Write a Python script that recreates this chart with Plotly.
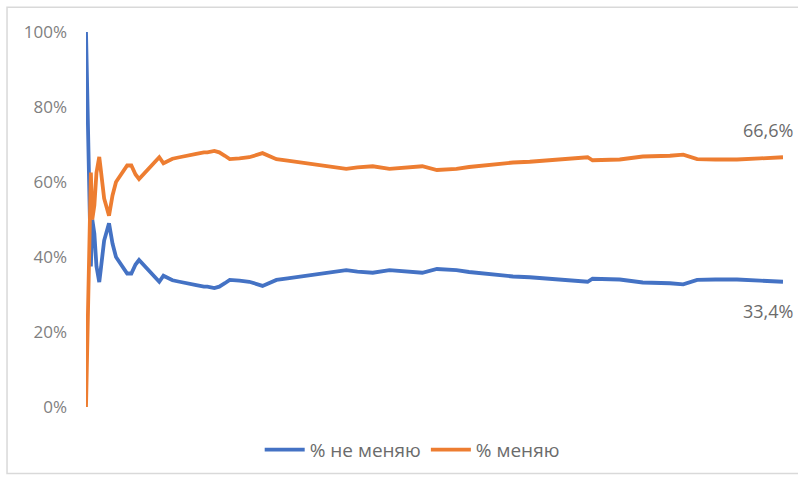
import plotly.graph_objects as go

trials = [1, 4, 6, 8, 10, 13, 16, 20, 22, 27, 34, 39, 44, 53, 60, 66, 72, 77, 85, 92,
          100, 106, 112, 116, 125, 135, 149, 159, 170, 175, 185, 192, 200, 207, 221, 235,
          254, 265, 274, 290, 307, 330, 346, 360, 374, 390, 412, 436, 460, 483, 504, 520,
          532, 550, 565, 590, 613, 637, 661, 684, 709, 720, 727, 750, 766, 799, 813, 838,
          857, 877, 903, 934, 967, 1000]

# % меняю (switch)
pct_switch = [0.0, 25.0, 50.0, 62.5, 50.0, 53.8, 62.5, 66.7, 63.6, 55.6, 51.0, 56.4, 60.0,
              62.6, 64.4, 64.4, 62.0, 60.8, 62.5, 63.9, 65.5, 66.6, 65.0, 65.3, 66.2, 66.6,
              67.0, 67.5, 67.9, 67.9, 68.3, 67.9, 67.0, 66.1, 66.3, 66.6, 67.7, 66.8, 66.1,
              65.7, 65.3, 64.6, 64.4, 64.0, 63.5, 63.9, 64.2, 63.5, 63.8, 64.2, 63.2, 63.3,
              63.5, 64.0, 64.3, 64.7, 65.2, 65.4, 65.8, 66.1, 66.4, 66.6, 65.8, 65.9, 66.0,
              66.8, 66.8, 67.0, 67.3, 66.1, 66.0, 66.0, 66.3, 66.6]

# % не меняю (stay)
pct_stay = [100.0, 75.0, 50.0, 37.5, 50.0, 46.2, 37.5, 33.3, 36.4, 44.4, 49.0, 43.6, 40.0,
            37.4, 35.6, 35.6, 38.0, 39.2, 37.5, 36.1, 34.5, 33.4, 35.0, 34.7, 33.8, 33.4,
            33.0, 32.5, 32.1, 32.1, 31.7, 32.1, 33.0, 33.9, 33.7, 33.4, 32.3, 33.2, 33.9,
            34.3, 34.7, 35.4, 35.6, 36.0, 36.5, 36.1, 35.8, 36.5, 36.2, 35.8, 36.8, 36.7,
            36.5, 36.0, 35.7, 35.3, 34.8, 34.6, 34.2, 33.9, 33.6, 33.4, 34.2, 34.1, 34.0,
            33.2, 33.2, 33.0, 32.7, 33.9, 34.0, 34.0, 33.7, 33.4]

y_ticks = [0, 20, 40, 60, 80, 100]
y_tick_text = ["0%", "20%", "40%", "60%", "80%", "100%"]

end_labels = ["66,6%", "33,4%"]

BLUE = "#4472C4"
ORANGE = "#ED7D31"
FONT = "Open Sans"

fig = go.Figure()
fig.add_trace(go.Scatter(x=trials, y=pct_stay, mode="lines", name="% не меняю",
                         line=dict(color=BLUE, width=3.8)))
fig.add_trace(go.Scatter(x=trials, y=pct_switch, mode="lines", name="% меняю",
                         line=dict(color=ORANGE, width=3.8)))

fig.add_annotation(x=0.94, y=74.0, xref="paper", yref="y", text=end_labels[0],
                   showarrow=False, xanchor="left", yanchor="middle",
                   font=dict(family=FONT, size=18, color="#6b6b6b"))
fig.add_annotation(x=0.94, y=25.7, xref="paper", yref="y", text=end_labels[1],
                   showarrow=False, xanchor="left", yanchor="middle",
                   font=dict(family=FONT, size=18, color="#6b6b6b"))

# outer chart border
fig.add_shape(type="rect", xref="paper", yref="paper",
              x0=-0.1133, x1=1.03, y0=-0.177, y1=1.066,
              line=dict(color="#d9d9d9", width=1.5), layer="below")

fig.update_layout(
    width=798, height=481,
    margin=dict(l=86, r=15, t=32, b=71),
    paper_bgcolor="white", plot_bgcolor="white",
    font=dict(family=FONT, size=17, color="#808080"),
    showlegend=True,
    legend=dict(orientation="h", x=0.468, xanchor="center", y=-0.114, yanchor="middle",
                font=dict(family=FONT, size=19, color="#6b6b6b"), bgcolor="rgba(0,0,0,0)",
                itemwidth=40),
    xaxis=dict(range=[1, 1000], showgrid=False, zeroline=False, showline=False,
               showticklabels=False, ticks=""),
    yaxis=dict(range=[0, 100], tickvals=y_ticks, ticktext=y_tick_text,
               showgrid=False, zeroline=False, showline=False, ticks="",
               ticklabelstandoff=18,
               tickfont=dict(family=FONT, size=17, color="#808080")),
)

fig.write_html("out.html")
